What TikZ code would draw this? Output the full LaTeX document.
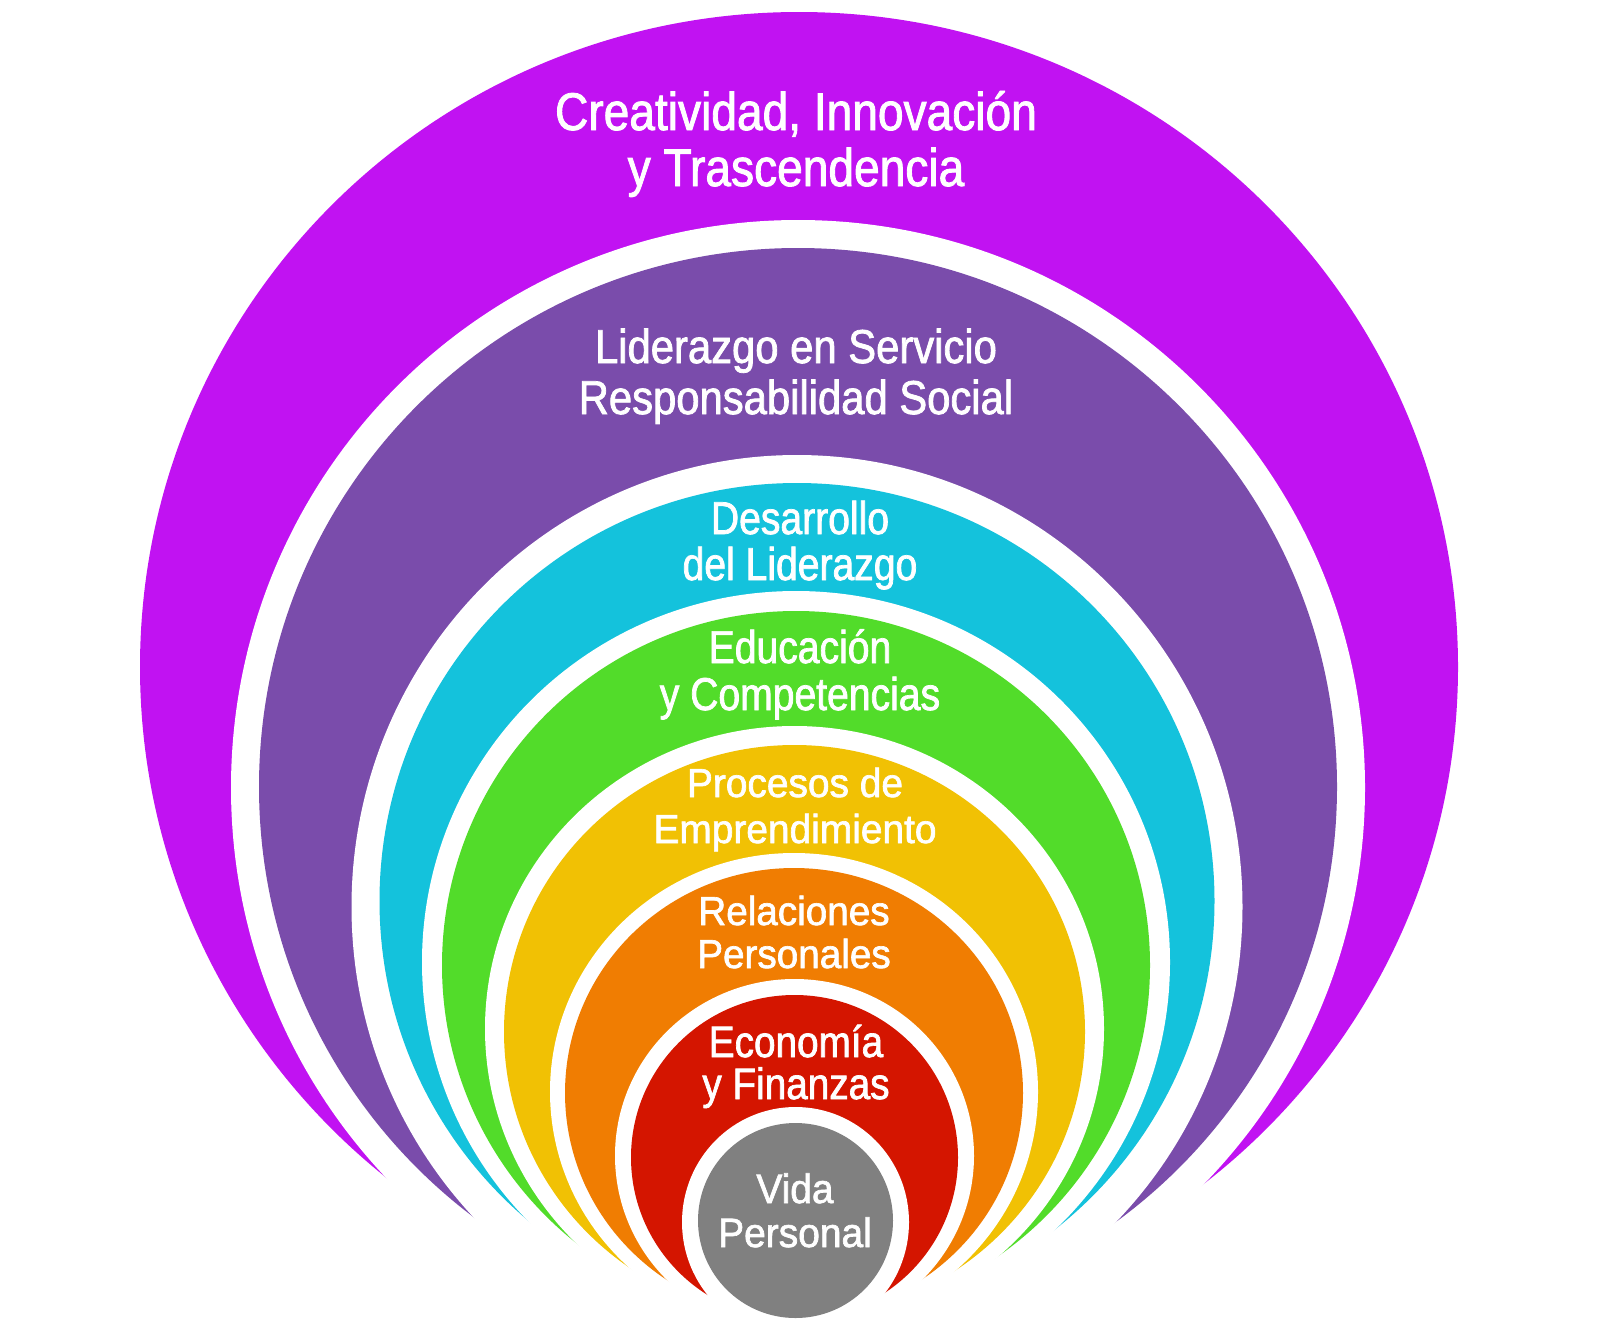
\documentclass[tikz,border=0pt]{standalone}
\usepackage{fontspec}
\setmainfont{Liberation Sans}
\definecolor{cMag}{HTML}{C112F2}
\definecolor{cVio}{HTML}{7A4CAB}
\definecolor{cCya}{HTML}{14C2DC}
\definecolor{cGre}{HTML}{52DC2A}
\definecolor{cYel}{HTML}{F1C104}
\definecolor{cOra}{HTML}{F07D02}
\definecolor{cRed}{HTML}{D41500}
\definecolor{cGry}{HTML}{808080}
\newcommand{\lf}[3]{\fontsize{#1}{#2}\selectfont\addfontfeature{FakeStretch=#3,FakeBold=1.6}}
\begin{document}
\begin{tikzpicture}[x=1pt,y=-1pt,
  lbl/.style={text=white,inner sep=0pt,anchor=base},
  gapfill/.style={fill=white}]
\useasboundingbox (0,0) rectangle (1600,1328);
\fill[white] (0,0) rectangle (1600,1328);
% bands, outermost first; each white ellipse is the gap around the next band
\fill[cMag] (799,667) ellipse [x radius=659pt, y radius=655pt];
\fill[gapfill] (798,787.7) ellipse [x radius=567pt, y radius=567.7pt];
\fill[cVio] (798,786.8) ellipse [x radius=539pt, y radius=538.8pt];
\fill[gapfill] (797,906.7) ellipse [x radius=445.5pt, y radius=451.7pt];
\fill[cCya] (797,900.9) ellipse [x radius=417.5pt, y radius=417.9pt];
\fill[gapfill] (796,962.1) ellipse [x radius=374pt, y radius=371.1pt];
\fill[cGre] (796,965.3) ellipse [x radius=354pt, y radius=354.3pt];
\fill[gapfill] (794.5,1028.7) ellipse [x radius=309.5pt, y radius=302.7pt];
\fill[cYel] (794.5,1031.7) ellipse [x radius=290.5pt, y radius=286.7pt];
\fill[gapfill] (794,1091.7) ellipse [x radius=244pt, y radius=238.7pt];
\fill[cOra] (794,1092.9) ellipse [x radius=229pt, y radius=224.9pt];
\fill[gapfill] (794.5,1155.7) ellipse [x radius=179.5pt, y radius=176.7pt];
\fill[cRed] (794.5,1157.4) ellipse [x radius=163.5pt, y radius=162.4pt];
\fill[gapfill] (795.5,1222.2) ellipse [x radius=113.5pt, y radius=115.2pt];
\fill[cGry] (795.5,1220.5) circle [radius=97.5pt];
% labels
\node[lbl,font=\lf{53}{57}{0.87}] (t1a) at (796,130) {Creatividad, Innovación};
\node[lbl,font=\lf{53}{57}{0.87}] (t1b) at (796,186) {y Trascendencia};
\node[lbl,font=\lf{47.5}{51}{0.88}] (t2a) at (796,363) {Liderazgo en Servicio};
\node[lbl,font=\lf{47.5}{51}{0.88}] (t2b) at (796,414) {Responsabilidad Social};
\node[lbl,font=\lf{46}{46}{0.85}] (t3a) at (800,534) {Desarrollo};
\node[lbl,font=\lf{46}{46}{0.85}] (t3b) at (800,580) {del Liderazgo};
\node[lbl,font=\lf{46}{46}{0.85}] (t4a) at (800,663) {Educación};
\node[lbl,font=\lf{46}{46}{0.85}] (t4b) at (800,710) {y Competencias};
\node[lbl,font=\lf{40.5}{46}{0.96}] (t5a) at (795,797) {Procesos de};
\node[lbl,font=\lf{40.5}{46}{0.96}] (t5b) at (795,843) {Emprendimiento};
\node[lbl,font=\lf{40.5}{43}{0.955}] (t6a) at (794,925) {Relaciones};
\node[lbl,font=\lf{40.5}{43}{0.955}] (t6b) at (794,968) {Personales};
\node[lbl,font=\lf{44}{44}{0.88}] (t7a) at (796,1057) {Economía};
\node[lbl,font=\lf{44}{44}{0.88}] (t7b) at (796,1099) {y Finanzas};
\node[lbl,font=\lf{41}{44}{0.95}] (t8a) at (795,1203) {Vida};
\node[lbl,font=\lf{41}{44}{0.95}] (t8b) at (795,1247) {Personal};
\end{tikzpicture}
\end{document}
